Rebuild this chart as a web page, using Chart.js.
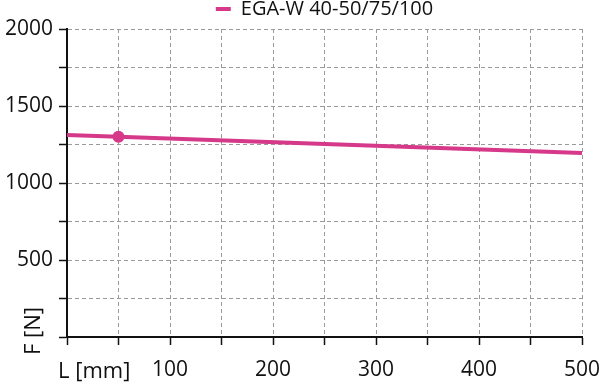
<!DOCTYPE html>
<html>
<head>
<meta charset="utf-8">
<script src="https://cdn.jsdelivr.net/npm/chart.js@4.4.0/dist/chart.umd.min.js"></script>
<style>
  html, body { margin: 0; padding: 0; background: #fff; }
  #wrap { width: 600px; height: 383px; }
</style>
</head>
<body>
<div id="wrap"><canvas id="chart"></canvas></div>
<script>
// ----------------- DATA -----------------
const seriesName = "EGA-W 40-50/75/100";
const lengths = [0, 50, 500];          // L [mm]
const forces = [1312, 1300, 1195];     // F [N]
const markedLength = 50;               // the one point drawn with a dot
const xLabels = [100, 200, 300, 400, 500];
const yLabels = [500, 1000, 1500, 2000];
const xTitle = "L [mm]";
const yTitle = "F [N]";

const lineColor = "#d6388a";
const gridColor = "#9a9a9a";
const fontFamily = "'Open Sans', sans-serif";

// ----------------- AXIS TITLES + LEGEND CENTERING -----------------
const axisTitles = {
  id: "axisTitles",
  afterLayout(chart) {
    // center the legend over the plot area, not the canvas
    const area = chart.chartArea;
    if (chart.legend) {
      chart.legend.left = area.left;
      chart.legend.right = area.right;
    }
  },
  afterDraw(chart) {
    const ctx = chart.ctx;
    const area = chart.chartArea;
    ctx.save();
    ctx.fillStyle = "#111";
    ctx.font = "22px " + fontFamily;
    ctx.textAlign = "left";
    ctx.textBaseline = "alphabetic";
    ctx.fillText(xTitle, area.left - 9, 378);

    ctx.translate(34, area.bottom - 6);
    ctx.rotate(-Math.PI / 2);
    ctx.textAlign = "center";
    ctx.textBaseline = "middle";
    ctx.fillText(yTitle, 0, 0);
    ctx.restore();
  }
};

// ----------------- CHART -----------------
const ctx = document.getElementById("chart").getContext("2d");
const chart = new Chart(ctx, {
  type: "line",
  data: {
    datasets: [{
      label: seriesName,
      data: lengths.map((l, i) => ({ x: l, y: forces[i] })),
      borderColor: lineColor,
      backgroundColor: lineColor,
      borderWidth: 4,
      pointRadius: c => (lengths[c.dataIndex] === markedLength ? 6 : 0),
      pointHoverRadius: 0,
      pointBorderWidth: 0,
      tension: 0,
      fill: false,
    }]
  },
  options: {
    responsive: true,
    maintainAspectRatio: false,
    animation: false,
    layout: { padding: { left: 0, right: 18, top: -1, bottom: 0 } },
    plugins: {
      tooltip: { enabled: false },
      legend: {
        display: true,
        position: "top",
        labels: {
          boxWidth: 15,
          boxHeight: 4,
          padding: 0,
          color: "#111",
          font: { family: fontFamily, size: 20 },
          generateLabels: ch => Chart.defaults.plugins.legend.labels.generateLabels(ch)
            .map(it => Object.assign(it, { lineWidth: 0, strokeStyle: "rgba(0,0,0,0)" })),
        }
      }
    },
    scales: {
      x: {
        type: "linear",
        min: 0,
        max: 500,
        afterFit: s => { s.height = 46; s.paddingLeft = 0; s.paddingRight = 0; },
        ticks: {
          stepSize: 50,
          autoSkip: false,
          maxRotation: 0,
          padding: 12,
          color: "#111",
          font: { family: fontFamily, size: 21 },
          callback: v => (xLabels.includes(v) ? String(v) : ""),
        },
        grid: {
          color: gridColor,
          lineWidth: 1,
          tickLength: 8,
          tickColor: "#111",
          tickWidth: 1.5,
          tickBorderDash: [],
        },
        border: { display: true, color: "#111", width: 2, dash: [4, 3] },
      },
      y: {
        min: 0,
        max: 2000,
        afterFit: s => { s.width = 67; s.paddingTop = 0; s.paddingBottom = 0; },
        ticks: {
          stepSize: 250,
          autoSkip: false,
          padding: 6,
          color: "#111",
          font: { family: fontFamily, size: 21 },
          callback: v => (yLabels.includes(v) ? String(v) : ""),
        },
        grid: {
          color: gridColor,
          lineWidth: 1,
          tickLength: 8,
          tickColor: "#111",
          tickWidth: 1.5,
          tickBorderDash: [],
        },
        border: { display: true, color: "#111", width: 2, dash: [4, 3] },
      }
    }
  },
  plugins: [axisTitles]
});
</script>
</body>
</html>
